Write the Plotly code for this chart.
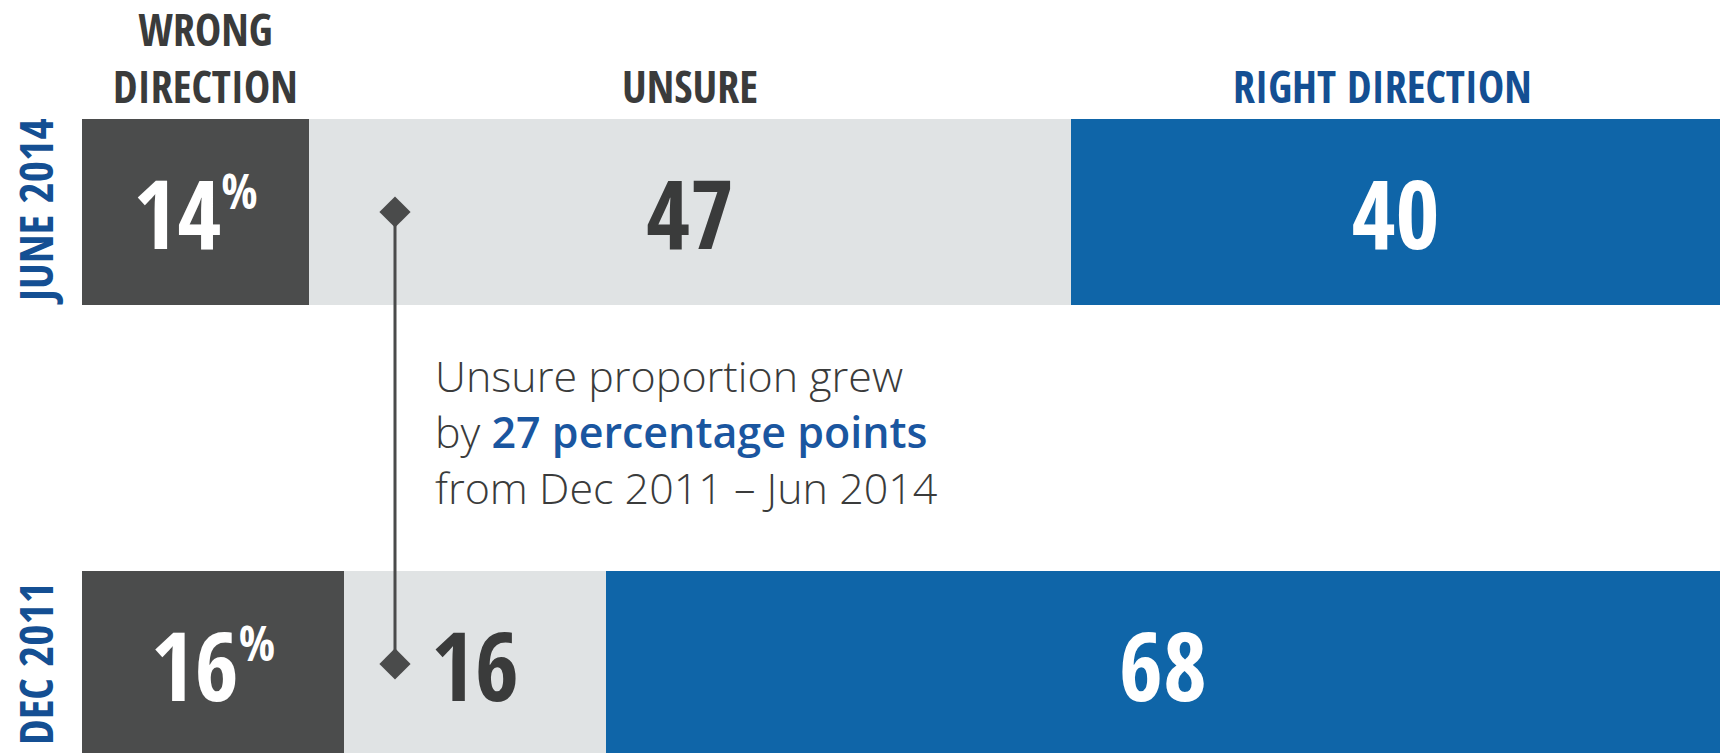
import plotly.graph_objects as go

# ---- data ----
periods = ["DEC 2011", "JUNE 2014"]
categories = ["WRONG DIRECTION", "UNSURE", "RIGHT DIRECTION"]
header_lines = ["WRONG<br>DIRECTION", "UNSURE", "RIGHT DIRECTION"]
wrong = [16, 14]
unsure = [16, 47]
right = [68, 40]
note_lines = ["Unsure proportion grew", "by ", "27 percentage points", "from Dec 2011 – Jun 2014"]

COND = "Open Sans Condensed, Roboto Condensed, sans-serif"
C_WRONG = "#4b4c4c"
C_UNSURE = "#e0e3e4"
C_RIGHT = "#0f65a8"
C_DARK = "#3a3b3b"
C_BLUE_T = "#144f93"

fig = go.Figure()

series = [
    (wrong, C_WRONG, "white", "%{x}<sup><span style='font-size:48px'>%</span></sup>"),
    (unsure, C_UNSURE, C_DARK, "%{x}"),
    (right, C_RIGHT, "white", "%{x}"),
]
# bottom bar (Dec 2011) on x, top bar (June 2014) on x2
for idx, xa in [(0, "x"), (1, "x2")]:
    for (vals, col, tcol, tmpl), name in zip(series, categories):
        fig.add_trace(go.Bar(
            x=[vals[idx]], y=[periods[idx]], orientation="h",
            xaxis=xa, yaxis="y", name=name,
            marker=dict(color=col, line=dict(width=0)),
            width=0.41,
            texttemplate=tmpl, textposition="inside", insidetextanchor="middle",
            textangle=0, constraintext="none",
            textfont=dict(family=COND, size=95, color=tcol, weight="bold"),
            showlegend=False, hoverinfo="skip",
        ))

# connector line between the two unsure segments (drawn on the overlay axis so it sits on top)
fig.add_trace(go.Scatter(
    x=[19.3, 19.3], y=[periods[1], periods[0]], xaxis="x2", yaxis="y",
    mode="lines+markers",
    line=dict(color="#4a4b4b", width=3),
    marker=dict(symbol="diamond", size=24, color="#4a4b4b"),
    showlegend=False, hoverinfo="skip",
))

# headers (centred on the June 2014 segments)
mids = [wrong[1] / 2 + 0.6, wrong[1] + unsure[1] / 2, wrong[1] + unsure[1] + right[1] / 2 - 0.8]
hcols = [C_DARK, C_DARK, C_BLUE_T]
for txt, m, c in zip(header_lines, mids, hcols):
    fig.add_annotation(
        x=m, xref="x2", xanchor="center", y=1 - 118 / 753, yref="paper", yanchor="bottom",
        text=txt, showarrow=False, align="center",
        font=dict(family=COND, size=44, color=c, weight="bold"),
    )

# period labels (rotated)
for p, ypx in zip(periods, [664, 212]):
    fig.add_annotation(
        x=(35 - 82) / 1638, xref="paper", xanchor="center",
        y=1 - ypx / 753, yref="paper", yanchor="middle",
        text=p, textangle=-90, showarrow=False,
        font=dict(family=COND, size=46, color=C_BLUE_T, weight=800),
    )

# note text
note = (f"{note_lines[0]}<br>{note_lines[1]}"
        f"<span style='font-weight:600;color:#1a56a0'>{note_lines[2]}</span>"
        f"<br>{note_lines[3]}")
fig.add_annotation(
    x=(433 - 82) / 1638, xref="paper", xanchor="left",
    y=1 - 344 / 753, yref="paper", yanchor="top",
    text=note, showarrow=False, align="left",
    font=dict(family="Open Sans, Lato, sans-serif", size=43, color=C_DARK, weight=300),
)

fig.update_layout(
    width=1720, height=753,
    margin=dict(l=82, r=0, t=0, b=0),
    paper_bgcolor="white", plot_bgcolor="white",
    barmode="stack", bargap=0,
    xaxis=dict(range=[0, 100], visible=False, fixedrange=True),
    xaxis2=dict(range=[0, wrong[1] + unsure[1] + right[1]], visible=False, overlaying="x", fixedrange=True),
    yaxis=dict(type="category", categoryorder="array", categoryarray=periods,
               range=[-0.197, 1.469], visible=False, fixedrange=True),
)

fig.write_html("out.html", config={"displayModeBar": False},
               post_script="document.body.style.margin='0';document.body.style.overflow='hidden';")
